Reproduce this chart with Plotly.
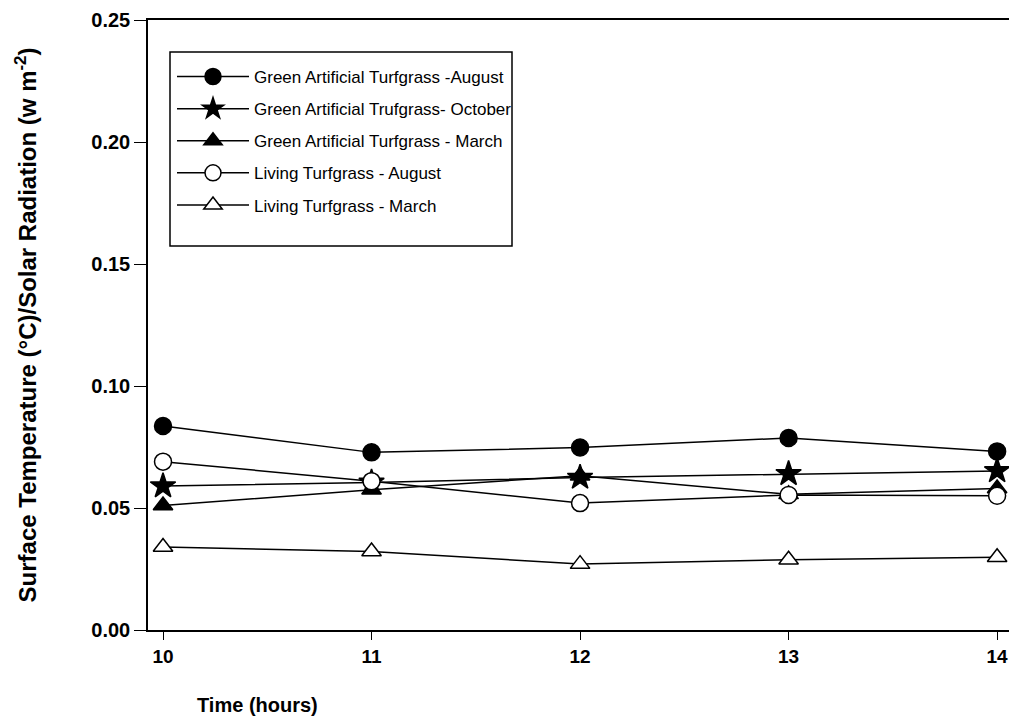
import plotly.graph_objects as go

hours = [10, 11, 12, 13, 14]
gat_august = [0.0836, 0.0728, 0.0748, 0.0787, 0.0732]
gat_october = [0.0590, 0.0605, 0.0625, 0.0640, 0.0652]
gat_march = [0.0510, 0.0575, 0.0632, 0.0556, 0.0580]
lt_august = [0.0690, 0.0610, 0.0520, 0.0553, 0.0550]
lt_march = [0.0340, 0.0322, 0.0270, 0.0288, 0.0298]

series = [
    ("Green Artificial Turfgrass -August", gat_august, "circle", "black"),
    ("Green Artificial Trufgrass- October", gat_october, "star", "black"),
    ("Green Artificial Turfgrass - March", gat_march, "triangle-up", "black"),
    ("Living Turfgrass - August", lt_august, "circle", "white"),
    ("Living Turfgrass - March", lt_march, "triangle-up", "white"),
]

fig = go.Figure()
for i, (name, vals, sym, fill) in enumerate(series):
    fig.add_trace(go.Scatter(
        x=hours, y=vals, name=name, mode="lines+markers",
        line=dict(color="black", width=1.5),
        marker=dict(symbol=sym, size=17 if sym != "star" else 19, color=fill,
                    line=dict(color="black", width=1.5)),
        legendgroup=f"g{i}",
    ))

font = "Arial, Liberation Sans, sans-serif"
plot_w = 1009 - 148
plot_h = 723 - 20 - 93


def px(x):
    return (x - 148) / plot_w


def py(y):
    return (630 - y) / plot_h


fig.update_layout(
    width=1009, height=723,
    margin=dict(l=148, r=0, t=20, b=93),
    paper_bgcolor="white", plot_bgcolor="white",
    font=dict(family=font, color="black"),
    showlegend=True,
    legend=dict(
        x=px(172), y=py(59), xanchor="left", yanchor="top",
        bgcolor="rgba(0,0,0,0)", borderwidth=0,
        font=dict(size=17, family=font, color="black"),
        tracegroupgap=7, itemwidth=72,
    ),
    shapes=[dict(
        type="rect", xref="paper", yref="paper",
        x0=px(170), x1=px(512), y0=py(52), y1=py(246),
        line=dict(color="black", width=1.5), fillcolor="white", layer="below",
    )],
    xaxis=dict(
        range=[9.928, 14.057], tickvals=hours, ticks="outside", ticklen=8,
        tickwidth=1.2, tickcolor="black",
        showline=True, linecolor="black", linewidth=1.5, mirror=True,
        showgrid=False, zeroline=False,
        tickfont=dict(size=19, family=font, color="black", weight="bold"),
    ),
    yaxis=dict(
        range=[0, 0.25], tickvals=[0, 0.05, 0.10, 0.15, 0.20, 0.25],
        tickformat=".2f", ticks="outside", ticklen=12, tickwidth=1.2,
        tickcolor="black", showline=True, linecolor="black", linewidth=1.5,
        showgrid=False, zeroline=False,
        tickfont=dict(size=20, family=font, color="black", weight="bold"),
        title=dict(text="Surface Temperature (°C)/Solar Radiation (w m<sup>-2</sup>)",
                   font=dict(size=24, family=font, color="black", weight="bold"),
                   standoff=48),
    ),
    annotations=[dict(
        text="<b>Time (hours)</b>", x=px(257), y=py(705),
        xref="paper", yref="paper", xanchor="center", yanchor="middle",
        showarrow=False, font=dict(size=20, family=font, color="black"),
    )],
)

fig.write_html("out.html")
